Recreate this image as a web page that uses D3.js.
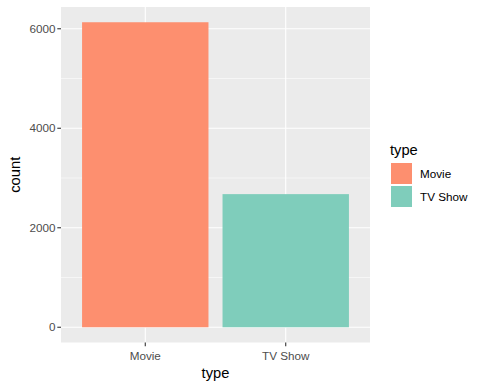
<!DOCTYPE html>
<html><head><meta charset="utf-8">
<script src="https://cdn.jsdelivr.net/npm/d3@7"></script>
<style>body{margin:0;background:#fff}text{font-family:Arial,"Liberation Sans",sans-serif}</style>
</head><body>
<svg id="c" width="485" height="388"></svg>
<script>
const categories = ["Movie", "TV Show"];
const counts = [6131, 2676];
const colors = ["#FD8F6F", "#7FCDBB"];
const yTicks = [0, 2000, 4000, 6000];
const yMinor = [1000, 3000, 5000];

const svg = d3.select("#c");
const L = 61, R = 370, T = 7, B = 342.5;
const ymax = d3.max(counts);
const y = d3.scaleLinear().domain([-0.05 * ymax, 1.05 * ymax]).range([B, T]);
const x = d3.scaleBand().domain(categories).range([L, R]).paddingOuter(0.6 - 0.5 + 0.5).paddingInner(0);
// category centers with 0.6 expansion each side
const step = (R - L) / (categories.length - 1 + 1.2);
const cx = c => L + step * (0.6 + categories.indexOf(c));
const bw = step * 0.9;

svg.append("rect").attr("x", L).attr("y", T).attr("width", R - L).attr("height", B - T).attr("fill", "#EBEBEB");
const g = svg.append("g");
yMinor.forEach(v => g.append("line").attr("x1", L).attr("x2", R).attr("y1", y(v)).attr("y2", y(v)).attr("stroke", "#fff").attr("stroke-width", 0.55));
yTicks.forEach(v => g.append("line").attr("x1", L).attr("x2", R).attr("y1", y(v)).attr("y2", y(v)).attr("stroke", "#fff").attr("stroke-width", 1.1));
categories.forEach(c => g.append("line").attr("x1", cx(c)).attr("x2", cx(c)).attr("y1", T).attr("y2", B).attr("stroke", "#fff").attr("stroke-width", 1.1));

svg.selectAll(".bar").data(categories).enter().append("rect")
  .attr("x", c => cx(c) - bw / 2).attr("width", bw)
  .attr("y", (c, i) => y(counts[i])).attr("height", (c, i) => y(0) - y(counts[i]))
  .attr("fill", (c, i) => colors[i]);

// y axis
yTicks.forEach(v => {
  svg.append("line").attr("x1", L - 3.7).attr("x2", L).attr("y1", y(v)).attr("y2", y(v)).attr("stroke", "#333").attr("stroke-width", 1.1);
  svg.append("text").attr("x", L - 5.5).attr("y", y(v)).attr("dy", "0.36em").attr("text-anchor", "end")
    .attr("font-size", 11.7).attr("fill", "#4D4D4D").text(d3.format("d")(v));
});
// x axis
categories.forEach(c => {
  svg.append("line").attr("x1", cx(c)).attr("x2", cx(c)).attr("y1", B).attr("y2", B + 3.7).attr("stroke", "#333").attr("stroke-width", 1.1);
  svg.append("text").attr("x", cx(c)).attr("y", B + 17).attr("text-anchor", "middle")
    .attr("font-size", 11.7).attr("fill", "#4D4D4D").text(c);
});
svg.append("text").attr("x", (L + R) / 2).attr("y", 378).attr("text-anchor", "middle").attr("font-size", 14.7).attr("fill", "#000").text("type");
svg.append("text").attr("transform", `translate(20,${(T + B) / 2}) rotate(-90)`).attr("text-anchor", "middle").attr("font-size", 14.7).attr("fill", "#000").text("count");

// legend
svg.append("text").attr("x", 390).attr("y", 155).attr("font-size", 14.7).attr("fill", "#000").text("type");
categories.forEach((c, i) => {
  const ky = 162 + i * 23;
  svg.append("rect").attr("x", 390.5).attr("y", ky + 0.5).attr("width", 22).attr("height", 22).attr("fill", colors[i]).attr("stroke", "#fff").attr("stroke-width", 1);
  svg.append("text").attr("x", 420).attr("y", ky + 11.5).attr("dy", "0.36em").attr("font-size", 11.7).attr("fill", "#000").text(c);
});
</script>
</body></html>
